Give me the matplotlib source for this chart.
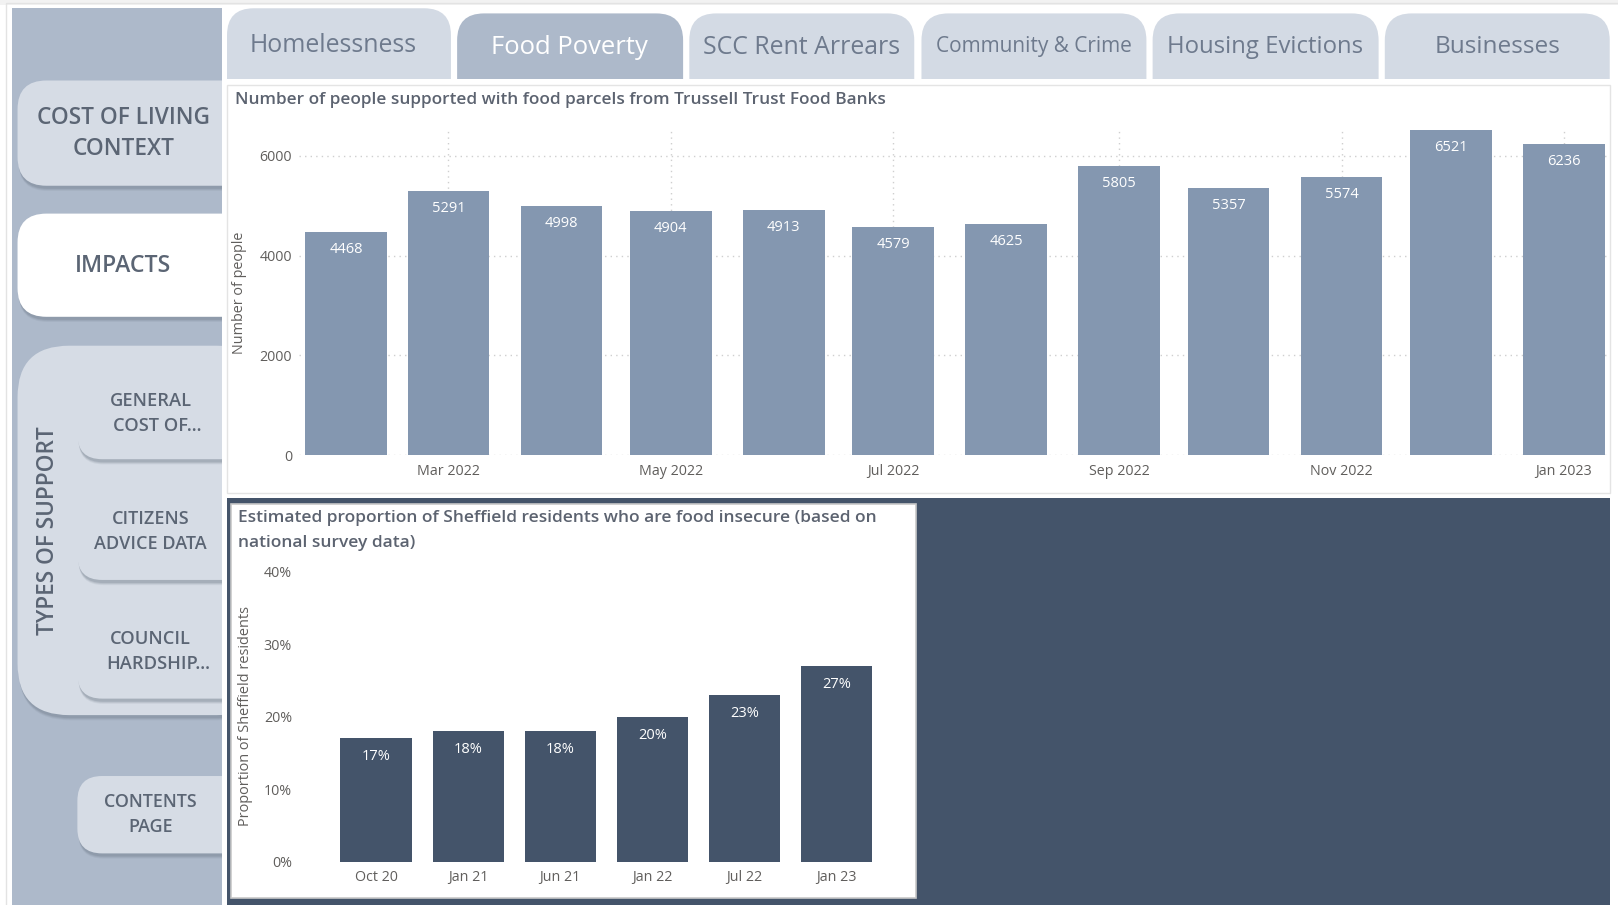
import matplotlib
matplotlib.use('Agg')
import matplotlib.pyplot as plt
import matplotlib.dates as mdates
from matplotlib.patches import FancyBboxPatch, Rectangle
import pandas as pd

plt.rcParams['font.family'] = ['Open Sans', 'DejaVu Sans']

W, H = 1618, 905
# layout below is measured on a 1568 x 877 view of the dashboard
DW, DH = 1568, 877
S = W / DW

# data: food parcels (Trussell Trust)
months = ['2022-02', '2022-03', '2022-04', '2022-05', '2022-06', '2022-07',
          '2022-08', '2022-09', '2022-10', '2022-11', '2022-12', '2023-01']
people = [4468, 5291, 4998, 4904, 4913, 4579, 4625, 5805, 5357, 5574, 6521, 6236]

# data: food insecurity survey
survey_periods = ['Oct 20', 'Jan 21', 'Jun 21', 'Jan 22', 'Jul 22', 'Jan 23']
food_insecure_pct = [17, 18, 18, 20, 23, 27]
pct_ticks = [0, 10, 20, 30, 40]
people_ticks = [0, 2000, 4000, 6000]

tab_labels = ['Homelessness', 'Food Poverty', 'SCC Rent Arrears',
              'Community & Crime', 'Housing Evictions', 'Businesses']
active_tab = 'Food Poverty'

top_title = 'Number of people supported with food parcels from Trussell Trust Food Banks'
bottom_title = ['Estimated proportion of Sheffield residents who are food insecure (based on',
                'national survey data)']

# colours
SIDEBAR = '#adb9ca'
BUTTON = '#d6dce5'
TAB = '#d3dae4'
LIGHT_BAR = '#8497b0'
DARK = '#44546a'
TXT = '#605e5c'
TITLE_TXT = '#5c6370'
NAV_TXT = '#5b6574'
TAB_TXT = '#6e7a8d'

fig = plt.figure(figsize=(W / 100, H / 100), dpi=100, facecolor='white')
bg = fig.add_axes([0, 0, 1, 1])
bg.set_xlim(0, DW)
bg.set_ylim(DH, 0)
bg.axis('off')
renderer = fig.canvas.get_renderer()


def px(l, t, r, b):
    return [l / DW, 1 - b / DH, (r - l) / DW, (b - t) / DH]


def rbox(l, t, r, b, fc, rad, clip=None, shadow=False, ec='none', z=1):
    style = f'round,pad=0,rounding_size={rad}'
    if shadow:
        for k, a in [(5, 0.12), (4, 0.18), (3, 0.25)]:
            s = FancyBboxPatch((l + 1, t + k), r - l, b - t, boxstyle=style,
                               fc='#6f7a8a', ec='none', alpha=a, zorder=z)
            bg.add_patch(s)
            if clip is not None:
                s.set_clip_path(clip)
    p = FancyBboxPatch((l, t), r - l, b - t, boxstyle=style, fc=fc, ec=ec, zorder=z + 0.1)
    bg.add_patch(p)
    if clip is not None:
        p.set_clip_path(clip)
    return p


def text_group(lines, xs, ys, width, color, rotation=0, **kw):
    # size the group so the widest line has the given width
    ts = [bg.text(x, y, s, fontsize=12, color=color, rotation=rotation,
                  ha=kw.get('ha', 'center'), va='center',
                  fontweight=kw.get('weight', 'normal'), zorder=10)
          for s, x, y in zip(lines, xs, ys)]
    sizes = []
    for t in ts:
        bb = t.get_window_extent(renderer)
        sizes.append(bb.height if rotation else bb.width)
    fs = 12 * width * S / max(sizes)
    for t in ts:
        t.set_fontsize(fs)
    return ts


# outer frame
bg.add_patch(Rectangle((0, 0), DW, 5, fc='#f2f2f2', ec='none'))
bg.add_patch(Rectangle((6, 3), DW - 4, DH, fc='none', ec='#e3e3e3', lw=1))

# sidebar
bg.add_patch(Rectangle((12, 8), 203, DH - 8, fc=SIDEBAR, ec='none', zorder=0.5))
side_clip = Rectangle((12, 8), 203, DH - 8, transform=bg.transData)

rbox(17, 78, 260, 180, BUTTON, 28, clip=side_clip, shadow=True)
rbox(17, 207, 260, 307, 'white', 28, clip=side_clip, shadow=True)
rbox(17, 335, 260, 693, BUTTON, 50, clip=side_clip, shadow=True)
rbox(75, 360, 260, 445, BUTTON, 24, clip=side_clip, shadow=True, z=2)
rbox(75, 470, 260, 562, BUTTON, 24, clip=side_clip, shadow=True, z=2)
rbox(75, 578, 260, 677, BUTTON, 24, clip=side_clip, shadow=True, z=2)
rbox(75, 752, 260, 827, BUTTON, 24, clip=side_clip, shadow=True, z=2)

text_group(['COST OF LIVING', 'CONTEXT'], [120, 120], [114, 144], 168, NAV_TXT, weight='semibold')
text_group(['IMPACTS'], [119], [258], 93, NAV_TXT, weight='semibold')
text_group(['TYPES OF SUPPORT'], [47], [514], 202, NAV_TXT, rotation=90, weight='semibold')
text_group(['GENERAL', 'COST OF...'], [146, 152], [389, 413], 86, NAV_TXT, weight='semibold')
text_group(['CITIZENS', 'ADVICE DATA'], [146, 146], [503, 527], 109, NAV_TXT, weight='semibold')
text_group(['COUNCIL', 'HARDSHIP...'], [146, 153], [619, 643], 101, NAV_TXT, weight='semibold')
text_group(['CONTENTS', 'PAGE'], [146, 146], [777, 801], 90, NAV_TXT, weight='semibold')

# tabs
tab_box = [(220, 8, 437), (443, 13, 662), (668, 13, 886),
           (893, 13, 1111), (1117, 13, 1336), (1342, 13, 1560)]
tab_txt = [(323, 44, 161), (552, 46, 151), (777, 46, 191),
           (1002, 45, 190), (1226, 46, 188), (1451, 46, 121)]
tab_clip = Rectangle((218, 0), 1345, 77, transform=bg.transData)
for label, (l, t, r), (cx, cy, w) in zip(tab_labels, tab_box, tab_txt):
    active = label == active_tab
    rbox(l, t, r, 120, SIDEBAR if active else TAB, 26, clip=tab_clip)
    text_group([label], [cx], [cy], w, 'white' if active else TAB_TXT)

# panels
bg.add_patch(Rectangle((220, 82), 1340, 396, fc='white', ec='#e4e4e4', lw=1))
bg.add_patch(Rectangle((220, 483), 1340, 394, fc=DARK, ec='none'))
bg.add_patch(Rectangle((224, 488), 664, 382, fc='white', ec='#c8c8c8', lw=1.2))

# titles and axis titles
text_group([top_title], [228], [97], 632, TITLE_TXT, ha='left', weight='semibold')
text_group(bottom_title, [231, 231], [502, 526], 619, TITLE_TXT, ha='left', weight='semibold')
text_group(['Number of people'], [232], [284], 118, TXT, rotation=90)
text_group(['Proportion of Sheffield residents'], [238], [694], 212, TXT, rotation=90)

# top chart
dates = pd.to_datetime(months)
x1 = mdates.date2num(dates.to_pydatetime())
ax1 = fig.add_axes(px(290, 124, 1558, 441))
ax1.set_facecolor('none')
ax1.bar(x1, people, width=22.4, color=LIGHT_BAR, zorder=2)
ax1.set_xlim(x1[0] - 12.9, x1[-1] + 12)
ax1.set_ylim(0, 6560)
ax1.set_yticks(people_ticks)
ax1.xaxis.set_major_locator(mdates.MonthLocator(bymonth=[1, 3, 5, 7, 9, 11]))
ax1.xaxis.set_major_formatter(mdates.DateFormatter('%b %Y'))
ax1.grid(True, color='#cfcfcf', linestyle=(0, (1, 3)), linewidth=1)
ax1.set_axisbelow(True)
for s in ax1.spines.values():
    s.set_visible(False)
ax1.tick_params(axis='y', length=0, colors=TXT, labelsize=10.3, pad=5 * S)
ax1.tick_params(axis='x', length=0, colors=TXT, labelsize=10.3, pad=6.5 * S)
for x, v in zip(x1, people):
    ax1.annotate(f'{v}', (x, v), xytext=(0, -17 * S), textcoords='offset pixels',
                 ha='center', va='center', color='white', fontsize=10.5)

# bottom chart
ax2 = fig.add_axes(px(292, 554, 868, 835))
ax2.set_facecolor('none')
xs = range(len(survey_periods))
ax2.bar(xs, food_insecure_pct, width=0.775, color=DARK, zorder=2)
ax2.set_xlim(-0.813, len(survey_periods) - 1 + 0.645)
ax2.set_ylim(0, 40)
ax2.set_yticks(pct_ticks)
ax2.set_yticklabels([f'{v}%' for v in pct_ticks])
ax2.set_xticks(list(xs))
ax2.set_xticklabels(survey_periods)
for s in ax2.spines.values():
    s.set_visible(False)
ax2.tick_params(axis='y', length=0, colors=TXT, labelsize=10.3, pad=6.5 * S)
ax2.tick_params(axis='x', length=0, colors=TXT, labelsize=10.3, pad=6 * S)
for x, v in zip(xs, food_insecure_pct):
    ax2.annotate(f'{v}%', (x, v), xytext=(0, -18 * S), textcoords='offset pixels',
                 ha='center', va='center', color='white', fontsize=10.5)

fig.savefig('out.png', dpi=100, facecolor='white')
